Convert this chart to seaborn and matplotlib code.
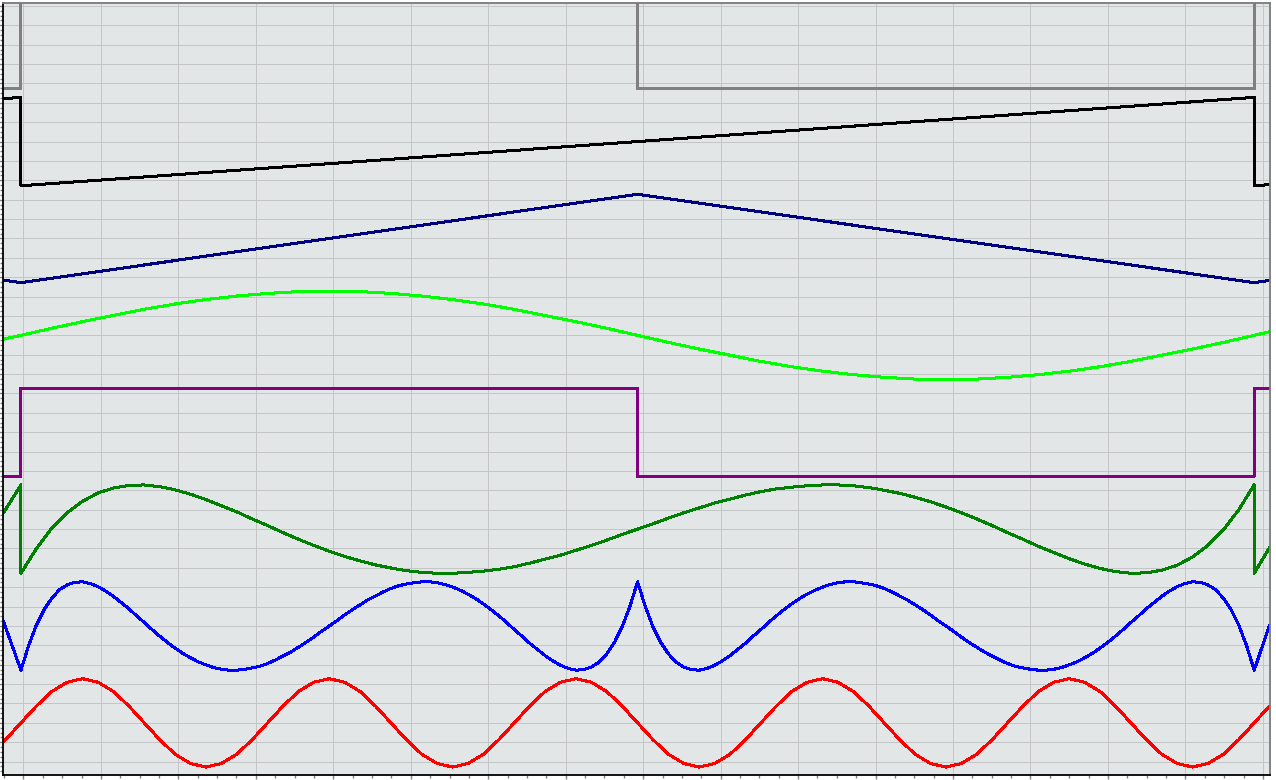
import numpy as np
import seaborn as sns
import matplotlib
matplotlib.use("Agg")
import matplotlib.pyplot as plt
from matplotlib.ticker import MultipleLocator

# x is the phase of one period (0..1); the window shows a little past both ends
EDGE_L = -0.0148
EDGE_R = 1.0124

# --- input waveforms (top four traces) ---
square_x = [EDGE_L, 0, 0, 0.5, 0.5, 1, 1, EDGE_R]
square_y = [-1, -1, 1, 1, -1, -1, 1, 1]

saw_x = [EDGE_L, 0, 0, 1, 1, EDGE_R]
saw_y = [0.97, 1, -1, 1, -1, -0.975]

tri_x = [EDGE_L, 0, 0.5, 1, EDGE_R]
tri_y = [-0.94, -1, 1, -1, -0.95]

sine_x = np.r_[EDGE_L, np.linspace(0, 1, 41), EDGE_R]
sine_y = [-0.09,
          0.00, 0.16, 0.31, 0.45, 0.59, 0.71, 0.81, 0.89, 0.95, 0.99,
          1.00, 0.99, 0.95, 0.89, 0.81, 0.71, 0.59, 0.45, 0.31, 0.16,
          0.00, -0.16, -0.31, -0.45, -0.59, -0.71, -0.81, -0.89, -0.95, -0.99,
          -1.00, -0.99, -0.95, -0.89, -0.81, -0.71, -0.59, -0.45, -0.31, -0.16,
          0.00,
          0.08]

# --- shaped outputs (bottom four traces) ---
shaped_square_x = square_x
shaped_square_y = square_y

shaped_saw_x = np.r_[EDGE_L, 0, np.linspace(0, 1, 81), 1, EDGE_R]
shaped_saw_y = [0.34, 1.00,
                -1.00, -0.44, 0.02, 0.37, 0.63, 0.82, 0.93, 0.99, 1.00, 0.96,
                0.89, 0.79, 0.67, 0.53, 0.39, 0.23, 0.08, -0.08, -0.23, -0.37,
                -0.50, -0.62, -0.72, -0.81, -0.88, -0.94, -0.98, -1.00, -1.00, -0.98,
                -0.95, -0.91, -0.85, -0.77, -0.68, -0.59, -0.48, -0.37, -0.25, -0.12,
                0.00, 0.12, 0.25, 0.37, 0.48, 0.59, 0.68, 0.77, 0.85, 0.91,
                0.95, 0.98, 1.00, 1.00, 0.98, 0.94, 0.88, 0.81, 0.72, 0.62,
                0.50, 0.37, 0.23, 0.08, -0.08, -0.23, -0.39, -0.53, -0.67, -0.79,
                -0.89, -0.96, -1.00, -0.99, -0.93, -0.82, -0.63, -0.37, -0.02, 0.44,
                1.00,
                -1.00, -0.42]

shaped_tri_x = np.r_[EDGE_L, np.linspace(0, 1, 161), EDGE_R]
shaped_tri_y = [0.15,
                -1.00, -0.44, 0.02, 0.37, 0.63, 0.82, 0.93, 0.99, 1.00, 0.96,
                0.89, 0.79, 0.67, 0.53, 0.39, 0.23, 0.08, -0.08, -0.23, -0.37,
                -0.50, -0.62, -0.72, -0.81, -0.88, -0.94, -0.98, -1.00, -1.00, -0.98,
                -0.95, -0.91, -0.85, -0.77, -0.68, -0.59, -0.48, -0.37, -0.25, -0.12,
                0.00, 0.12, 0.25, 0.37, 0.48, 0.59, 0.68, 0.77, 0.85, 0.91,
                0.95, 0.98, 1.00, 1.00, 0.98, 0.94, 0.88, 0.81, 0.72, 0.62,
                0.50, 0.37, 0.23, 0.08, -0.08, -0.23, -0.39, -0.53, -0.67, -0.79,
                -0.89, -0.96, -1.00, -0.99, -0.93, -0.82, -0.63, -0.37, -0.02, 0.44,
                1.00,
                0.44, -0.02, -0.37, -0.63, -0.82, -0.93, -0.99, -1.00, -0.96, -0.89,
                -0.79, -0.67, -0.53, -0.39, -0.23, -0.08, 0.08, 0.23, 0.37, 0.50,
                0.62, 0.72, 0.81, 0.88, 0.94, 0.98, 1.00, 1.00, 0.98, 0.95,
                0.91, 0.85, 0.77, 0.68, 0.59, 0.48, 0.37, 0.25, 0.12, 0.00,
                -0.12, -0.25, -0.37, -0.48, -0.59, -0.68, -0.77, -0.85, -0.91, -0.95,
                -0.98, -1.00, -1.00, -0.98, -0.94, -0.88, -0.81, -0.72, -0.62, -0.50,
                -0.37, -0.23, -0.08, 0.08, 0.23, 0.39, 0.53, 0.67, 0.79, 0.89,
                0.96, 1.00, 0.99, 0.93, 0.82, 0.63, 0.37, 0.02, -0.44, -1.00,
                0.02]

shaped_sine_x = np.r_[EDGE_L, np.linspace(0, 1, 81), EDGE_R]
shaped_sine_y = [-0.45,
                 0.00, 0.38, 0.71, 0.92, 1.00, 0.92, 0.71, 0.38,
                 0.00, -0.38, -0.71, -0.92, -1.00, -0.92, -0.71, -0.38,
                 0.00, 0.38, 0.71, 0.92, 1.00, 0.92, 0.71, 0.38,
                 0.00, -0.38, -0.71, -0.92, -1.00, -0.92, -0.71, -0.38,
                 0.00, 0.38, 0.71, 0.92, 1.00, 0.92, 0.71, 0.38,
                 0.00, -0.38, -0.71, -0.92, -1.00, -0.92, -0.71, -0.38,
                 0.00, 0.38, 0.71, 0.92, 1.00, 0.92, 0.71, 0.38,
                 0.00, -0.38, -0.71, -0.92, -1.00, -0.92, -0.71, -0.38,
                 0.00, 0.38, 0.71, 0.92, 1.00, 0.92, 0.71, 0.38,
                 0.00, -0.38, -0.71, -0.92, -1.00, -0.92, -0.71, -0.38,
                 0.00,
                 0.38]

# traces from top to bottom: (x, y, colour)
traces = [
    (square_x, square_y, "#808080"),
    (saw_x, saw_y, "#000000"),
    (tri_x, tri_y, "#000080"),
    (sine_x, sine_y, "#00ff00"),
    (shaped_square_x, shaped_square_y, "#800080"),
    (shaped_saw_x, shaped_saw_y, "#008000"),
    (shaped_tri_x, shaped_tri_y, "#0000ff"),
    (shaped_sine_x, shaped_sine_y, "#ff0000"),
]
AMPL = 0.456  # half height of one trace, in channel units

sns.set_style("whitegrid", {
    "axes.facecolor": "#e3e6e7",
    "grid.color": "#c3c5c6",
    "axes.edgecolor": "#808080",
})

fig = plt.figure(figsize=(12.76, 7.8), dpi=100, facecolor="white")
ax = fig.add_axes([2.7 / 1276, 5.3 / 780, 1266.8 / 1276, 772 / 780])

n = len(traces)
for i, (xs, ys, col) in enumerate(traces):
    offset = n - 1 - i
    sns.lineplot(x=xs, y=np.asarray(ys) * AMPL + offset, estimator=None, sort=False,
                 color=col, lw=1.44, antialiased=False, snap=False, ax=ax, legend=False)

ax.set_xlim(EDGE_L, EDGE_R)
ax.set_ylim(-0.535, 7.4335)

ax.xaxis.set_major_locator(MultipleLocator(0.062812, offset=0.00203))
ax.xaxis.set_minor_locator(MultipleLocator(0.062812 / 4, offset=0.00203))
ax.yaxis.set_major_locator(MultipleLocator(0.2))
ax.yaxis.set_minor_locator(MultipleLocator(0.05))
ax.grid(True, which="major", lw=0.72, antialiased=False)
ax.grid(False, which="minor")
ax.set_axisbelow(True)

ax.tick_params(which="both", direction="out", colors="#808080",
               labelleft=False, labelbottom=False, left=True, bottom=True)
ax.tick_params(which="major", length=3, width=1)
ax.tick_params(which="minor", length=2, width=1)

for side in ["left", "bottom"]:
    ax.spines[side].set_color("black")
for side in ["top", "right"]:
    ax.spines[side].set_color("#7a7a7a")
for sp in ax.spines.values():
    sp.set_linewidth(1.3)
    sp.set_visible(True)

fig.savefig("out.png", dpi=100, facecolor=fig.get_facecolor())
